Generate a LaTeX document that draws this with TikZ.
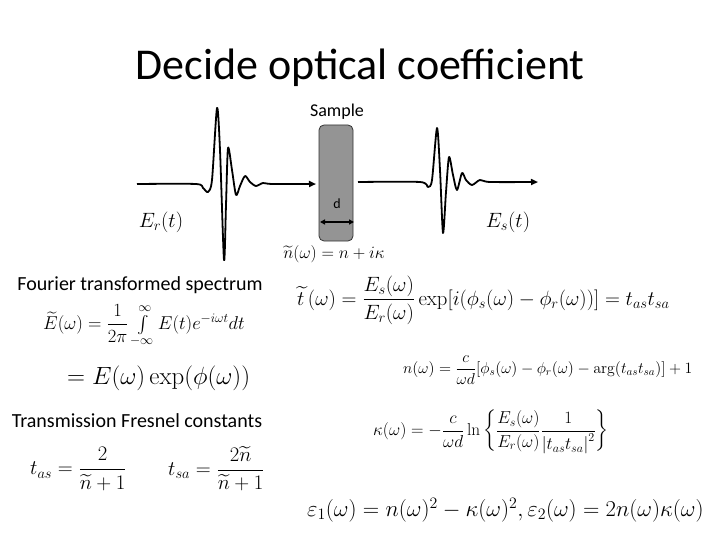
\documentclass[tikz,border=0pt]{standalone}
\usepackage{fix-cm}
\usepackage{amsmath}
\usepackage[no-math]{fontspec}
\setmainfont{Carlito}
\usetikzlibrary{arrows.meta}
\tikzset{
  wave/.style={line width=1.8pt, line join=round, -{Triangle[length=7pt,width=6pt]}},
  eq/.style={inner sep=0pt, anchor=west},
  lbl/.style={inner sep=0pt},
}
\newcommand{\fs}[1]{\fontsize{#1}{#1}\selectfont}
\begin{document}
\begin{tikzpicture}[x=1pt,y=-1pt]
\useasboundingbox (0,0) rectangle (720,540);
\node[lbl] (title) at (360,68) {\fs{44}Decide optical coefficient};
\node[lbl] (samplelbl) at (337,112) {\fs{18}Sample};
\node[draw=black!80, line width=0.8pt, fill=black!42, rounded corners=5pt, minimum width=34pt, minimum height=116pt, inner sep=0pt] (sample) at (336,183) {};
\node[lbl] (dlbl) at (337,204) {\fs{14}d};
\coordinate (dl) at (320,222);
\coordinate (dr) at (354,222);
\draw[line width=1.3pt, {Triangle[length=5pt,width=5pt]}-{Triangle[length=5pt,width=5pt]}] (dl) -- (dr);
\draw[wave] plot[smooth, tension=0.45] coordinates {(137,184) (196,184) (203,188) (208,192) (212,180) (217,108) (220,150) (224,260) (226,205) (228,148) (232,170) (236,195) (240,186) (245,176) (250,182) (256,186) (263,183) (272,184) (316,184)};
\draw[wave] plot[smooth, tension=0.45] coordinates {(358,182) (420,182) (428,187) (432,180) (437,128) (440,170) (443,233) (446,192) (449,157) (453,175) (457,190) (462,173) (466,180) (472,185) (480,180) (490,182) (538,182)};
\node[lbl] (er) at (161,222) {\fs{20.7}$E_r(t)$};
\node[lbl] (es) at (508,222) {\fs{20.7}$E_s(t)$};
\node[lbl] (nt) at (334,254) {\fs{17.3}$\widetilde{n}(\omega)=n+i\kappa$};
\node[lbl] (fourier) at (140,285) {\fs{20}Fourier transformed spectrum};
\node[eq] (eqE) at (43,326) {\fs{18.6}$\widetilde{E}(\omega)=\dfrac{1}{2\pi}\int\limits_{-\infty}^{\infty}E(t)e^{-i\omega t}dt$};
\node[eq] (eqE2) at (67,378) {\fs{24.9}$=E(\omega)\exp(\phi(\omega))$};
\node[lbl] (fresnel) at (137,421) {\fs{20}Transmission Fresnel constants};
\node[eq] (tas) at (30,469) {\fs{20.7}$t_{as}=\dfrac{2}{\widetilde{n}+1}$};
\node[eq] (tsa) at (168,469) {\fs{20.7}$t_{sa}=\dfrac{2\widetilde{n}}{\widetilde{n}+1}$};
\node[eq] (eqt) at (297,300) {\fs{20.7}$\widetilde{t}\,(\omega)=\dfrac{E_s(\omega)}{E_r(\omega)}\exp[i(\phi_s(\omega)-\phi_r(\omega))]=t_{as}t_{sa}$};
\node[eq] (eqn) at (403,370) {\fs{15.8}$n(\omega)=\dfrac{c}{\omega d}[\phi_s(\omega)-\phi_r(\omega)-\arg(t_{as}t_{sa})]+1$};
\node[eq] (eqk) at (373,432) {\fs{17.3}$\kappa(\omega)=-\dfrac{c}{\omega d}\ln\left\{\dfrac{E_s(\omega)}{E_r(\omega)}\dfrac{1}{\left|t_{as}t_{sa}\right|^2}\right\}$};
\node[eq] (eqeps) at (307,510) {\fs{22.7}$\varepsilon_1(\omega)=n(\omega)^2-\kappa(\omega)^2,\varepsilon_2(\omega)=2n(\omega)\kappa(\omega)$};
\end{tikzpicture}
\end{document}
